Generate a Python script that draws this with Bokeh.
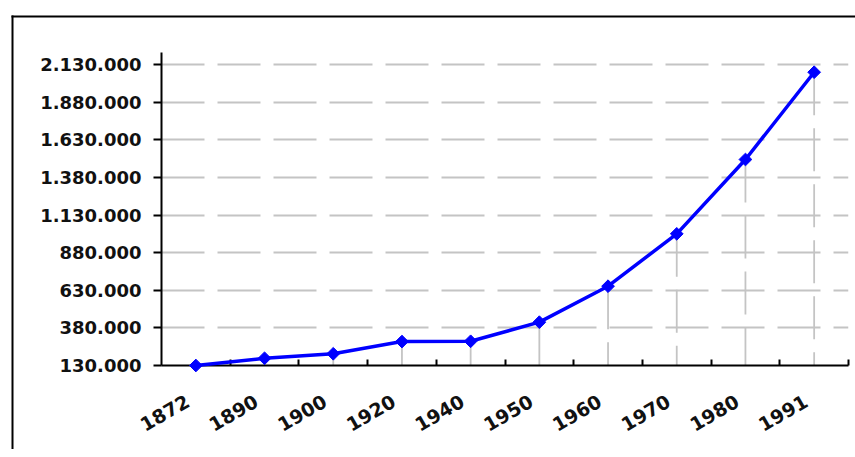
import math
from bokeh.plotting import figure
from bokeh.models import FixedTicker, Range1d, ColumnDataSource
from bokeh.embed import file_html
from bokeh.resources import INLINE

# ---- data ----
years = ["1872", "1890", "1900", "1920", "1940", "1950", "1960", "1970", "1980", "1991"]
population = [130000, 178000, 208000, 289000, 291000, 418000, 657000, 1005000, 1499000, 2079000]
ytick_values = [130000, 380000, 630000, 880000, 1130000, 1380000, 1630000, 1880000, 2130000]
ytick_labels = ["130.000", "380.000", "630.000", "880.000", "1.130.000",
                "1.380.000", "1.630.000", "1.880.000", "2.130.000"]

n = len(years)
centers = [i + 0.5 for i in range(n)]
bounds = [float(i) for i in range(1, n + 1)]
base = ytick_values[0]
y_top = 2210000
label_shift = -0.12    # x-label anchor offset (style)

# ---- layout (pixels) ----
W, H = 855, 449
ML, MR, MT, MB = 161, 7, 52, 84
frame_w = W - ML - MR
frame_h = H - MT - MB


def px_x(px):
    return 0 + (px - ML) / frame_w * n


def px_y(py):
    return y_top - (py - MT) / frame_h * (y_top - base)


src = ColumnDataSource(dict(x=centers, y=population, y0=[base] * n))

p = figure(width=W, height=H,
           x_range=Range1d(0, n), y_range=Range1d(base, y_top),
           output_backend="svg", toolbar_location=None,
           min_border_left=ML, min_border_right=MR,
           min_border_top=MT, min_border_bottom=MB)
p.outline_line_color = None
p.background_fill_color = "white"
p.border_fill_color = "white"

# outer frame of the picture (top and left edges)
p.segment(x0=[px_x(11), px_x(12)], y0=[px_y(16), px_y(15)],
          x1=[px_x(900), px_x(12)], y1=[px_y(16), px_y(500)],
          line_color="black", line_width=2, level="overlay")

grid_col = "#c4c4c4"
# grid
p.xgrid.visible = False
p.ygrid.ticker = FixedTicker(ticks=ytick_values)
p.ygrid.grid_line_color = grid_col
p.ygrid.grid_line_width = 1.8
p.ygrid.grid_line_dash = "43 13"

# drop lines
p.segment(x0="x", y0="y", x1="x", y1="y0", source=src,
          line_color=grid_col, line_width=1.8, line_dash="43 13")

# series
p.line(x="x", y="y", source=src, line_color="#0000ff", line_width=3.5,
       level="overlay")
p.scatter(x="x", y="y", source=src, marker="square", angle=math.pi / 4,
          size=9, fill_color="#0000ff", line_color="#0000ff", level="overlay")

font = "DejaVu Sans"
# x axis
xa = p.xaxis[0]
xa.ticker = FixedTicker(ticks=[c + label_shift for c in centers], minor_ticks=bounds)
xa.major_label_overrides = {c + label_shift: y for c, y in zip(centers, years)}
xa.major_tick_in = 0
xa.major_tick_out = 0
xa.minor_tick_in = 6
xa.minor_tick_out = 0
xa.minor_tick_line_color = "black"
xa.minor_tick_line_width = 2
xa.axis_line_color = "black"
xa.axis_line_width = 2
xa.major_label_orientation = math.pi / 6
xa.major_label_standoff = 34
xa.major_label_text_font = font
xa.major_label_text_font_style = "bold"
xa.major_label_text_font_size = "19px"
xa.major_label_text_color = "#111111"

# y axis
ya = p.yaxis[0]
ya.ticker = FixedTicker(ticks=ytick_values)
ya.major_label_overrides = {v: s for v, s in zip(ytick_values, ytick_labels)}
ya.major_tick_in = 0
ya.major_tick_out = 8
ya.minor_tick_in = 0
ya.minor_tick_out = 0
ya.major_tick_line_color = "black"
ya.major_tick_line_width = 2
ya.axis_line_color = "black"
ya.axis_line_width = 2
ya.major_label_standoff = 12
ya.major_label_text_font = font
ya.major_label_text_font_style = "bold"
ya.major_label_text_font_size = "18px"
ya.major_label_text_color = "#111111"

open("out.html", "w").write(file_html(p, INLINE))
